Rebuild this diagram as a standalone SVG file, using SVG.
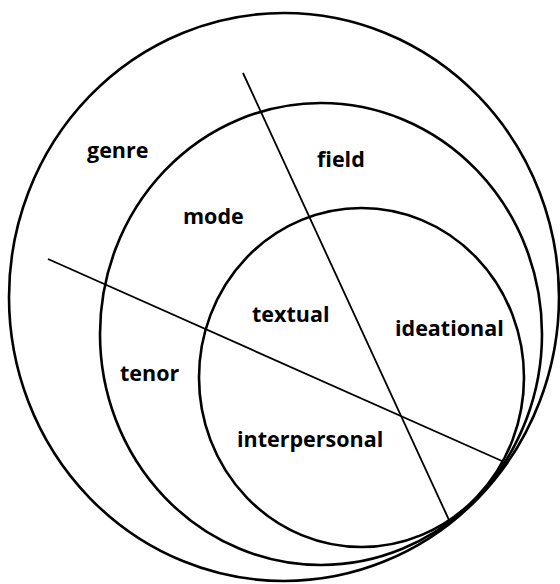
<svg xmlns="http://www.w3.org/2000/svg" width="560" height="584" viewBox="0 0 560 584">
<style>
.ring{fill:none;stroke:#000;stroke-width:2.6}
.div{stroke:#000;stroke-width:1.8;fill:none}
.lbl{font-family:"Open Sans","Liberation Sans",sans-serif;font-weight:700;font-size:21.5px;fill:#000}
</style>
<rect width="560" height="584" fill="#fff"/>
<g id="genre">
<ellipse class="ring" cx="284" cy="297" rx="275" ry="284"/>
<text class="lbl" x="87" y="158">genre</text>
</g>
<g id="register">
<ellipse class="ring" cx="321" cy="334" rx="221" ry="231"/>
<text class="lbl" x="317" y="167">field</text>
<text class="lbl" x="183" y="224">mode</text>
<text class="lbl" x="120" y="381">tenor</text>
</g>
<g id="language">
<ellipse class="ring" cx="361.5" cy="377.5" rx="162.5" ry="169.5"/>
<text class="lbl" x="252" y="322">textual</text>
<text class="lbl" x="395" y="336">ideational</text>
<text class="lbl" x="237" y="447">interpersonal</text>
</g>
<g id="connectors">
<line class="div" x1="243" y1="73" x2="449" y2="520"/>
<line class="div" x1="48" y1="259" x2="502" y2="461"/>
</g>
</svg>
